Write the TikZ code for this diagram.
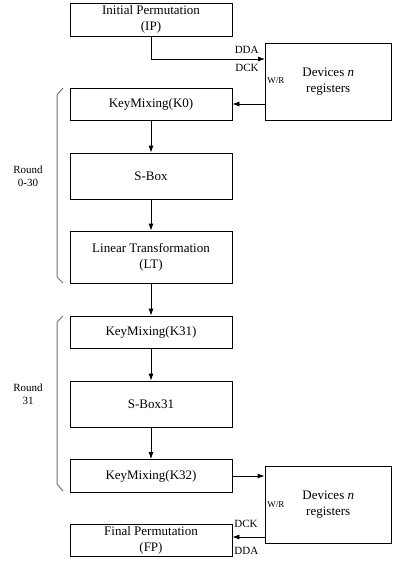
\documentclass[tikz,border=0pt]{standalone}
\usepackage{fontspec}
\setmainfont{Liberation Serif}
\usetikzlibrary{arrows.meta, positioning}

\begin{document}
\begin{tikzpicture}[x=1pt, y={(0pt,-1pt)}, line width=0.8pt,
  blk/.style={rectangle, draw, minimum width=162pt, align=center,
     inner sep=1pt, font=\fontsize{13}{16}\selectfont},
  dev/.style={rectangle, draw, minimum width=126.5pt, minimum height=77pt,
     align=center, font=\fontsize{13}{16}\selectfont},
  sig/.style={font=\fontsize{11}{12}\selectfont, inner sep=0pt},
  wr/.style={font=\fontsize{9}{10}\selectfont, inner sep=0pt, anchor=west},
  rnd/.style={align=center, font=\fontsize{11}{13.5}\selectfont},
  brk/.style={draw=black!55, line width=1pt},
  arr/.style={-{Latex[length=7pt, width=5pt]}}]
  \useasboundingbox (0,0) rectangle (392,562);
  % main chain of blocks
  \node[blk, minimum height=33pt] (ip)   at (151,19.5)  {Initial Permutation\\(IP)};
  \node[blk, minimum height=32pt] (k0)   at (151,104)   {KeyMixing(K0)};
  \node[blk, minimum height=46pt] (sb)   at (151,176)   {S-Box};
  \node[blk, minimum height=52pt] (lt)   at (151,257)   {Linear Transformation\\(LT)};
  \node[blk, minimum height=32pt] (k31)  at (151,332)   {KeyMixing(K31)};
  \node[blk, minimum height=46pt] (sb31) at (151,404)   {S-Box31};
  \node[blk, minimum height=33pt] (k32)  at (151,476)   {KeyMixing(K32)};
  \node[blk, minimum height=32pt] (fp)   at (151,540)   {Final Permutation\\(FP)};
  % register devices
  \node[dev] (dev1) at (328.25,81.5)  {Devices \textit{n}\\registers};
  \node[dev] (dev2) at (328.25,504.5) {Devices \textit{n}\\registers};
  \coordinate (d1in) at (265,59);
  % connectors
  \draw[arr] (ip.south) |- (d1in);
  \draw[arr] (dev1.west |- k0) -- (k0.east);
  \foreach \a/\b in {k0/sb, sb/lt, lt/k31, k31/sb31, sb31/k32}
    \draw[arr] (\a) -- (\b);
  \draw[arr] (k32.east) -- (k32.east -| dev2.west);
  \draw[arr] (dev2.west |- 0,537) -- (fp.east |- 0,537);
  % signal labels
  \node[sig, anchor=east] (dda1) at (259,50) {DDA};
  \node[sig, anchor=east] (dck1) at (259,68) {DCK};
  \node[wr] (wr1) at (267,81) {W/R};
  \node[sig, anchor=west] (dck2) at (234,524) {DCK};
  \node[sig, anchor=west] (dda2) at (234,551) {DDA};
  \node[wr] (wr2) at (267,505) {W/R};
  % round brackets
  \draw[brk] (63,88) -- (57,95) -- (57,277) -- (63,283);
  \draw[brk] (63,316) -- (57,322) -- (57,484) -- (63,491);
  \node[rnd] (r1) at (28,176) {Round\\0-30};
  \node[rnd] (r2) at (28,394) {Round\\31};
\end{tikzpicture}
\end{document}
